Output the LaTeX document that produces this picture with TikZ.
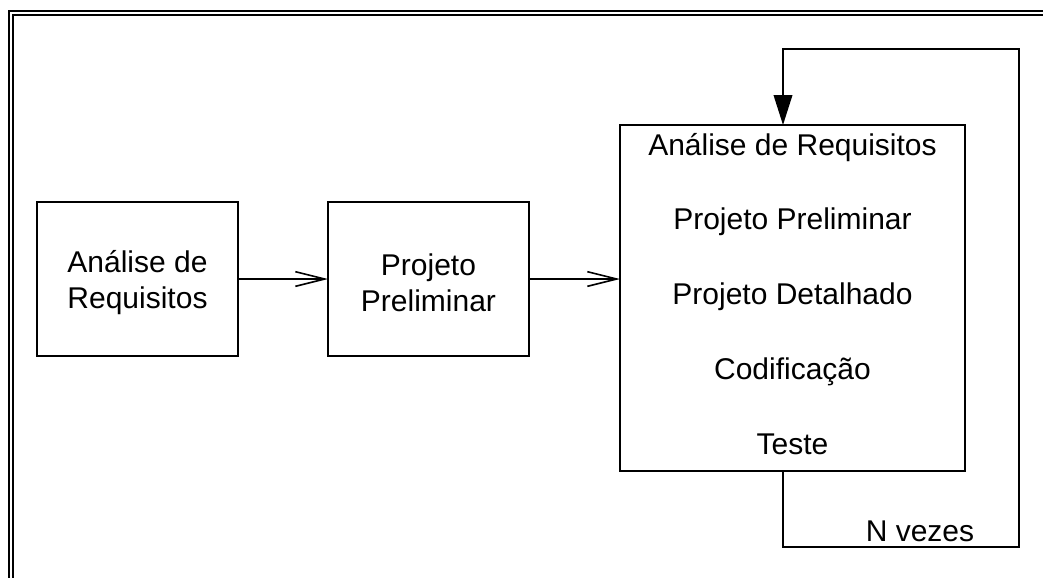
\documentclass[tikz,border=0pt]{standalone}
\usepackage{fontspec}
\setmainfont{Liberation Sans}
\usetikzlibrary{arrows.meta}

\tikzset{
  etapa/.style={draw, line width=1.5pt, outer sep=0pt,
    minimum width=150.75pt, minimum height=115.5pt},
  rotulo/.style={align=center, yshift=-3pt},
  fluxo/.style={line width=1.2pt, -{Straight Barb[length=22pt,width=11pt,line width=1.2pt]}},
  retorno/.style={line width=1.2pt, -{Triangle[length=22.5pt,width=14pt]}},
  moldura/.style={line width=1.5pt}
}

\begin{document}
\begin{tikzpicture}[x=0.75pt,y=0.75pt,yscale=-1,xscale=1,
  font=\fontsize{22.5}{27}\selectfont]
\useasboundingbox (0,0) rectangle (1043,578);

%Frame (top and left, double line)
\draw [moldura] (9,578) -- (9,11) -- (1043,11);
\draw [moldura] (13,578) -- (13,15) -- (1043,15);

%Sequential phases
\node [etapa, label={[rotulo]center:Análise de\\Requisitos}] (analise) at (137.5,279) {};
\node [etapa, label={[rotulo]center:Projeto\\Preliminar}] (projeto) at (428.5,279) {};

%Iterated block
\node [draw, line width=1.5pt, outer sep=0pt, minimum width=258.75pt, minimum height=259.5pt] (iter) at (792.5,298) {};
\node [anchor=base] (itA) at (792.5,155) {Análise de Requisitos};
\node [anchor=base] (itB) at (792.5,229.75) {Projeto Preliminar};
\node [anchor=base] (itC) at (792.5,304.5) {Projeto Detalhado};
\node [anchor=base] (itD) at (792.5,379.25) {Codificação};
\node [anchor=base] (itE) at (792.5,454) {Teste};

%Arrows
\draw [fluxo] (analise) -- (projeto);
\draw [fluxo] (projeto) -- (projeto -| iter.west);

%Loop back
\coordinate (laco1) at (783,547);
\coordinate (laco2) at (1019,49);
\draw [retorno] (laco1 |- iter.south) -- (laco1) -| (laco2) -| (laco1 |- iter.north);
\node [anchor=base] (vezes) at (920,541) {N vezes};
\end{tikzpicture}
\end{document}
